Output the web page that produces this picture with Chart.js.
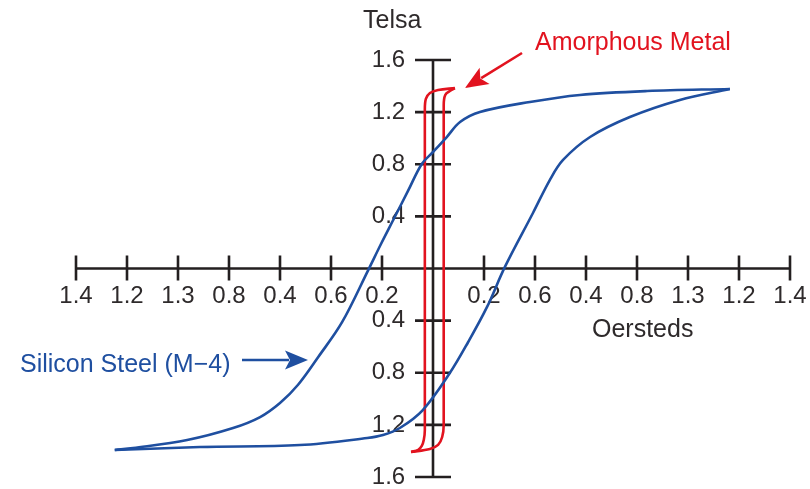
<!DOCTYPE html>
<html>
<head>
<meta charset="utf-8">
<title>Hysteresis loops</title>
<script src="https://cdn.jsdelivr.net/npm/chart.js@4.4.1/dist/chart.umd.min.js"></script>
<style>
  html, body { margin: 0; padding: 0; background: #fff; }
  #wrap { width: 810px; height: 489px; }
</style>
</head>
<body>
<div id="wrap"><canvas id="loopChart" width="810" height="489"></canvas></div>
<script>
// tick labels exactly as printed on the figure
const xTickLabels = ["1.4", "1.2", "1.3", "0.8", "0.4", "0.6", "0.2", "", "0.2", "0.6", "0.4", "0.8", "1.3", "1.2", "1.4"];
const yTickLabels = ["1.6", "1.2", "0.8", "0.4", "", "0.4", "0.8", "1.2", "1.6"];

// silicon steel (M-4), falling branch: top right tip -> bottom left tip
const steelDownH = [5.82, 4.20, 2.88, 1.90, 0.92, 0.53, 0.27, 0.00, -0.22, -0.49, -0.75, -1.02, -1.27, -1.78, -2.25, -2.65, -3.00, -3.39, -3.92, -4.82, -5.88, -6.24];
const steelDownB = [1.378, 1.362, 1.332, 1.278, 1.201, 1.124, 1.009, 0.894, 0.802, 0.595, 0.395, 0.188, -0.012, -0.410, -0.679, -0.894, -1.032, -1.140, -1.224, -1.316, -1.378, -1.393];

// silicon steel, rising branch: bottom left tip -> top right tip
const steelUpH = [-6.24, -4.57, -2.61, -1.29, -0.98, -0.65, -0.20, 0.33, 0.69, 1.06, 1.41, 1.96, 2.29, 2.55, 3.08, 3.86, 4.84, 5.82];
const steelUpB = [-1.393, -1.370, -1.355, -1.301, -1.278, -1.224, -1.086, -0.802, -0.564, -0.295, 0.012, 0.426, 0.679, 0.833, 1.009, 1.162, 1.293, 1.378];

// amorphous metal, falling branch (left line)
const amorDownH = [0.43, 0.10, -0.06, -0.14, -0.16, -0.16, -0.18, -0.22, -0.29, -0.43];
const amorDownB = [1.385, 1.370, 1.347, 1.301, 1.216, -1.239, -1.315, -1.362, -1.392, -1.408];

// amorphous metal, rising branch (right line)
const amorUpH = [-0.43, -0.06, 0.10, 0.18, 0.21, 0.21, 0.24, 0.33, 0.43];
const amorUpB = [-1.408, -1.385, -1.354, -1.293, -1.201, 1.255, 1.332, 1.362, 1.385];

const BLUE = "#1f4fa0";
const RED = "#e2131f";
const INK = "#231f20";
const TEXT = "#2e2a2b";
const FONT = "'Liberation Sans', Arial, Helvetica, sans-serif";

function toPoints(hs, bs) {
  return hs.map((h, i) => ({ x: h, y: bs[i] }));
}

function branch(hs, bs, color) {
  return {
    data: toPoints(hs, bs),
    showLine: true,
    borderColor: color,
    backgroundColor: color,
    borderWidth: 2.6,
    pointRadius: 0,
    tension: 0.35,
    fill: false
  };
}

// axes crossing at the origin, with ticks through the line
const crossAxes = {
  id: "crossAxes",
  beforeDatasetsDraw(chart) {
    const { ctx, scales: { x, y } } = chart;
    const x0 = x.getPixelForValue(0);
    const y0 = y.getPixelForValue(0);
    ctx.save();
    ctx.strokeStyle = INK;
    ctx.lineWidth = 2.6;
    ctx.beginPath();
    ctx.moveTo(x.getPixelForValue(x.min), y0);
    ctx.lineTo(x.getPixelForValue(x.max), y0);
    ctx.moveTo(x0, y.getPixelForValue(y.max));
    ctx.lineTo(x0, y.getPixelForValue(y.min));
    x.ticks.forEach(t => {
      if (t.value === 0) return;
      const px = x.getPixelForValue(t.value);
      ctx.moveTo(px, y0 - 13);
      ctx.lineTo(px, y0 + 12);
    });
    y.ticks.forEach(t => {
      if (Math.abs(t.value) < 1e-9) return;
      const py = y.getPixelForValue(t.value);
      ctx.moveTo(x0 - 18, py);
      ctx.lineTo(x0 + 18, py);
    });
    ctx.stroke();
    ctx.restore();
  }
};

function arrow(ctx, x1, y1, x2, y2, color) {
  const ang = Math.atan2(y2 - y1, x2 - x1);
  const len = 23, half = 9.5;
  const bx = x2 - len * Math.cos(ang), by = y2 - len * Math.sin(ang);
  ctx.strokeStyle = color;
  ctx.fillStyle = color;
  ctx.lineWidth = 2.6;
  ctx.beginPath();
  ctx.moveTo(x1, y1);
  ctx.lineTo(bx + 4 * Math.cos(ang), by + 4 * Math.sin(ang));
  ctx.stroke();
  ctx.beginPath();
  ctx.moveTo(x2, y2);
  ctx.lineTo(bx + half * Math.sin(ang), by - half * Math.cos(ang));
  ctx.lineTo(bx + 5 * Math.cos(ang), by + 5 * Math.sin(ang));
  ctx.lineTo(bx - half * Math.sin(ang), by + half * Math.cos(ang));
  ctx.closePath();
  ctx.fill();
}

// axis titles, callouts and arrows
const notes = {
  id: "notes",
  afterDraw(chart) {
    const ctx = chart.ctx;
    ctx.save();
    ctx.font = "25px " + FONT;
    ctx.textAlign = "left";
    ctx.textBaseline = "alphabetic";
    ctx.fillStyle = TEXT;
    ctx.fillText("Telsa", 363, 28);
    ctx.fillText("Oersteds", 592, 337);
    ctx.fillStyle = RED;
    ctx.fillText("Amorphous Metal", 535, 50);
    ctx.fillStyle = BLUE;
    ctx.fillText("Silicon Steel (M\u22124)", 20, 372);
    arrow(ctx, 522, 53, 465, 88, RED);
    arrow(ctx, 242, 360, 308, 360, BLUE);
    ctx.restore();
  }
};

new Chart(document.getElementById("loopChart"), {
  type: "scatter",
  data: {
    datasets: [
      branch(steelDownH, steelDownB, BLUE),
      branch(steelUpH, steelUpB, BLUE),
      branch(amorDownH, amorDownB, RED),
      branch(amorUpH, amorUpB, RED)
    ]
  },
  options: {
    responsive: false,
    animation: false,
    layout: { padding: { left: 76, right: 20, top: 60, bottom: 12 } },
    plugins: {
      legend: { display: false },
      tooltip: { enabled: false }
    },
    scales: {
      x: {
        type: "linear",
        min: -7,
        max: 7,
        // labels hang just under the axis line
        position: { y: -0.1 },
        border: { display: false },
        grid: { display: false, drawTicks: false },
        ticks: {
          stepSize: 1,
          autoSkip: false,
          maxRotation: 0,
          padding: 0,
          color: TEXT,
          font: { family: FONT, size: 24, lineHeight: 1.2 },
          callback: (value, index) => xTickLabels[index]
        }
      },
      y: {
        type: "linear",
        min: -1.6,
        max: 1.6,
        // labels sit to the left of the axis line
        position: { x: -0.545 },
        border: { display: false },
        grid: { display: false, drawTicks: false },
        ticks: {
          stepSize: 0.4,
          autoSkip: false,
          padding: 0,
          color: TEXT,
          font: { family: FONT, size: 24, lineHeight: 1 },
          callback: (value, index) => yTickLabels[index]
        }
      }
    }
  },
  plugins: [crossAxes, notes]
});
</script>
</body>
</html>
